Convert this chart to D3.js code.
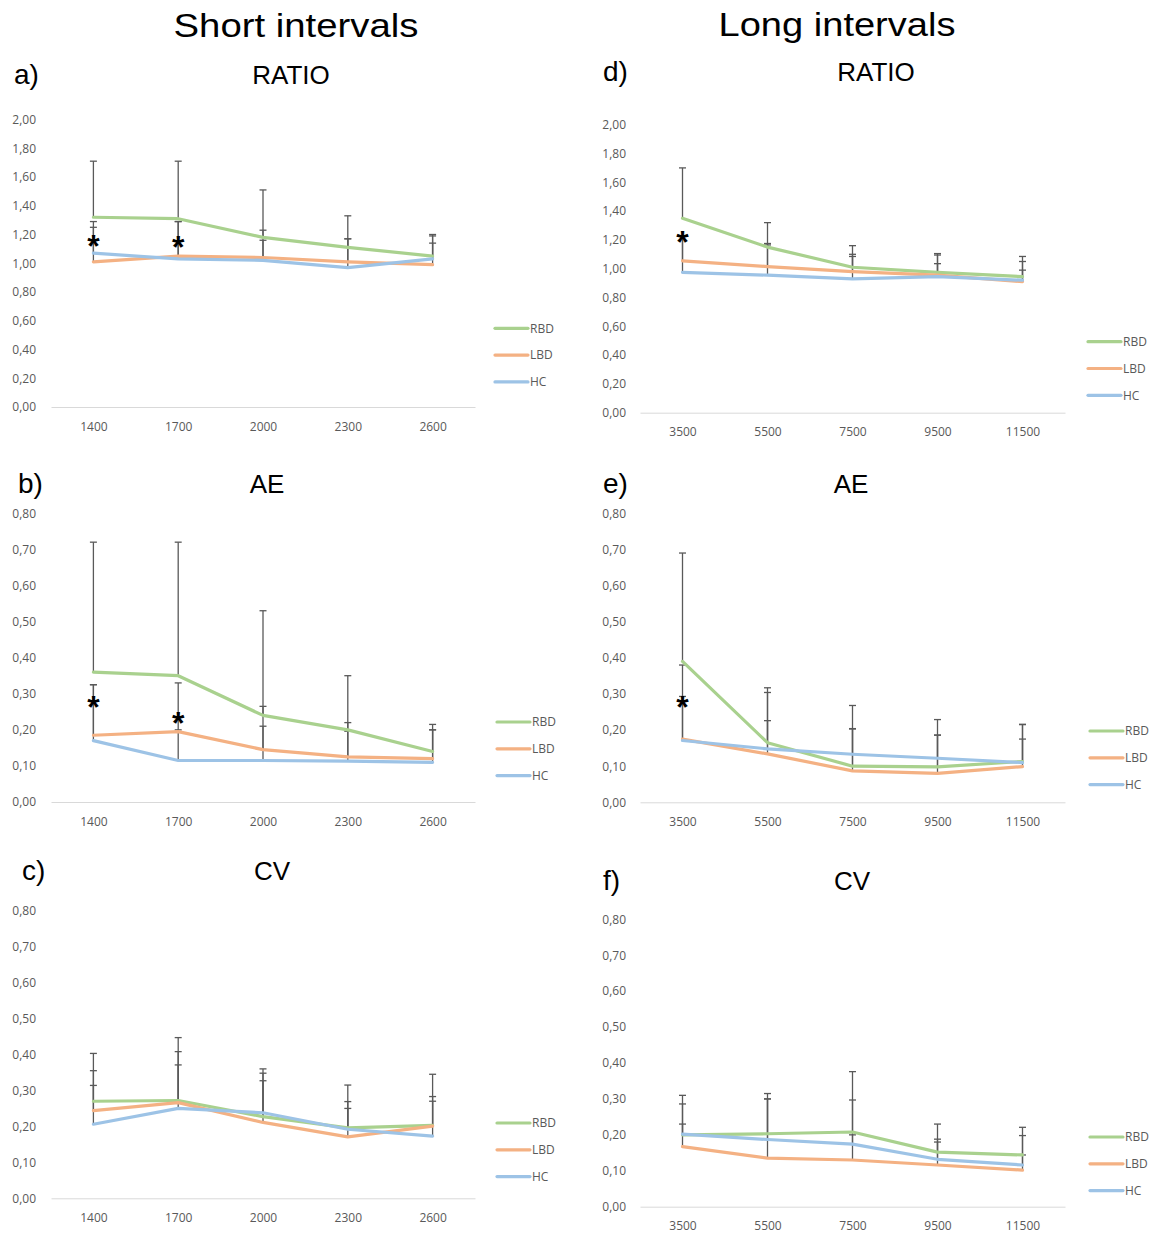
<!DOCTYPE html>
<html>
<head>
<meta charset="utf-8">
<script src="https://cdn.jsdelivr.net/npm/d3@7"></script>
<style>
  body { margin: 0; background: #fff; }
  svg { display: block; }
</style>
</head>
<body>
<div id="chart"></div>
<script>
// groups and colours
const groups = ["RBD", "LBD", "HC"];
const groupColors = ["#a9d18e", "#f4b183", "#9dc3e6"];

// categories (ms)
const shortCats = ["1400", "1700", "2000", "2300", "2600"];
const longCats = ["3500", "5500", "7500", "9500", "11500"];

// y ticks
const ratioTicks = [0, 0.2, 0.4, 0.6, 0.8, 1.0, 1.2, 1.4, 1.6, 1.8, 2.0];
const smallTicks = [0, 0.1, 0.2, 0.3, 0.4, 0.5, 0.6, 0.7, 0.8];

// a) RATIO short  (rows: RBD, LBD, HC)
const ratioShortMean = [
  [1.32, 1.31, 1.18, 1.11, 1.05],
  [1.01, 1.05, 1.04, 1.01, 0.99],
  [1.07, 1.03, 1.02, 0.97, 1.03]
];
const ratioShortSD = [
  [0.39, 0.40, 0.33, 0.22, 0.15],
  [0.28, 0.24, 0.19, 0.16, 0.20],
  [0.18, 0.26, 0.14, 0.20, 0.11]
];
const ratioShortStars = [["1400", 1.17], ["1700", 1.16]];

// b) AE short
const aeShortMean = [
  [0.36, 0.35, 0.24, 0.20, 0.14],
  [0.185, 0.195, 0.145, 0.125, 0.12],
  [0.17, 0.115, 0.115, 0.113, 0.11]
];
const aeShortSD = [
  [0.36, 0.37, 0.29, 0.15, 0.075],
  [0.14, 0.135, 0.12, 0.095, 0.08],
  [0.155, 0.085, 0.095, 0.083, 0.09]
];
const aeShortStars = [["1400", 0.283], ["1700", 0.239]];

// c) CV short
const cvShortMean = [
  [0.27, 0.272, 0.227, 0.196, 0.203],
  [0.244, 0.266, 0.211, 0.171, 0.201],
  [0.206, 0.25, 0.238, 0.192, 0.173]
];
const cvShortSD = [
  [0.133, 0.175, 0.133, 0.119, 0.142],
  [0.111, 0.142, 0.116, 0.098, 0.082],
  [0.108, 0.121, 0.11, 0.058, 0.097]
];

// d) RATIO long
const ratioLongMean = [
  [1.35, 1.15, 1.01, 0.975, 0.945],
  [1.055, 1.015, 0.98, 0.955, 0.91],
  [0.975, 0.955, 0.93, 0.945, 0.92]
];
const ratioLongSD = [
  [0.35, 0.17, 0.15, 0.13, 0.14],
  [0.17, 0.16, 0.12, 0.14, 0.14],
  [0.255, 0.21, 0.155, 0.09, 0.07]
];
const ratioLongStars = [["3500", 1.234]];

// e) AE long
const aeLongMean = [
  [0.39, 0.165, 0.10, 0.098, 0.113],
  [0.175, 0.134, 0.087, 0.08, 0.099],
  [0.171, 0.148, 0.133, 0.122, 0.11]
];
const aeLongSD = [
  [0.30, 0.152, 0.168, 0.131, 0.103],
  [0.205, 0.17, 0.117, 0.106, 0.116],
  [0.122, 0.078, 0.07, 0.064, 0.065]
];
const aeLongStars = [["3500", 0.283]];

// f) CV long
const cvLongMean = [
  [0.20, 0.203, 0.208, 0.152, 0.144],
  [0.167, 0.135, 0.130, 0.116, 0.102],
  [0.202, 0.187, 0.174, 0.132, 0.116]
];
const cvLongSD = [
  [0.11, 0.112, 0.168, 0.078, 0.077],
  [0.063, 0.165, 0.07, 0.072, 0.042],
  [0.084, 0.113, 0.123, 0.048, 0.082]
];

const W = 1152, H = 1234;
const labelFont = "'Liberation Sans', Arial, sans-serif";
const tickFont = "'Open Sans', sans-serif";
const gray = "#595959";

const svg = d3.select("#chart").append("svg")
  .attr("width", W).attr("height", H);
svg.append("rect").attr("width", W).attr("height", H).attr("fill", "#fff");

// column titles
svg.append("text").attr("x", 296).attr("y", 37)
  .attr("text-anchor", "middle").attr("font-family", labelFont)
  .attr("font-size", 33).attr("textLength", 245).attr("lengthAdjust", "spacingAndGlyphs")
  .text("Short intervals");
svg.append("text").attr("x", 837).attr("y", 36)
  .attr("text-anchor", "middle").attr("font-family", labelFont)
  .attr("font-size", 33).attr("textLength", 237).attr("lengthAdjust", "spacingAndGlyphs")
  .text("Long intervals");

const fmt = d3.formatLocale({ decimal: ",", thousands: ".", grouping: [3], currency: ["", ""] }).format(".2f");

// layout per panel
const panels = [
  { tag: "a)", tagX: 14, title: "RATIO", titleX: 291, titleY: 83.5, cats: shortCats,
    mean: ratioShortMean, sd: ratioShortSD, stars: ratioShortStars, ticks: ratioTicks, max: 2,
    x0: 51, x1: 475, yBot: 407, yTop: 119.5, tickX: 36, legX: 495, legY: 328.3 },
  { tag: "b)", tagX: 18, title: "AE", titleX: 267, titleY: 493, cats: shortCats,
    mean: aeShortMean, sd: aeShortSD, stars: aeShortStars, ticks: smallTicks, max: 0.8,
    x0: 51, x1: 475, yBot: 802, yTop: 513.3, tickX: 36, legX: 497, legY: 722 },
  { tag: "c)", tagX: 22, title: "CV", titleX: 272, titleY: 880, cats: shortCats,
    mean: cvShortMean, sd: cvShortSD, stars: [], ticks: smallTicks, max: 0.8,
    x0: 51, x1: 475, yBot: 1198.3, yTop: 910.7, tickX: 36, legX: 497, legY: 1123 },
  { tag: "d)", tagX: 603, title: "RATIO", titleX: 876, titleY: 81, cats: longCats,
    mean: ratioLongMean, sd: ratioLongSD, stars: ratioLongStars, ticks: ratioTicks, max: 2,
    x0: 640, x1: 1065, yBot: 412.7, yTop: 124.7, tickX: 626, legX: 1088, legY: 341.7 },
  { tag: "e)", tagX: 603, title: "AE", titleX: 851, titleY: 493, cats: longCats,
    mean: aeLongMean, sd: aeLongSD, stars: aeLongStars, ticks: smallTicks, max: 0.8,
    x0: 640, x1: 1065, yBot: 802.3, yTop: 513.3, tickX: 626, legX: 1090, legY: 731 },
  { tag: "f)", tagX: 603, title: "CV", titleX: 852, titleY: 890, cats: longCats,
    mean: cvLongMean, sd: cvLongSD, stars: [], ticks: smallTicks, max: 0.8,
    x0: 640, x1: 1065, yBot: 1206.7, yTop: 919.3, tickX: 626, legX: 1090, legY: 1137 }
];

panels.forEach(p => {
  const g = svg.append("g");

  // panel letter and title
  g.append("text").attr("x", p.tagX).attr("y", p.titleY)
    .attr("font-family", labelFont).attr("font-size", 28)
    .text(p.tag);
  g.append("text").attr("x", p.titleX).attr("y", p.titleY)
    .attr("text-anchor", "middle").attr("font-family", labelFont).attr("font-size", 26)
    .text(p.title);

  const x = d3.scalePoint().domain(p.cats).range([p.x0, p.x1]).padding(0.5);
  const y = d3.scaleLinear().domain([0, p.max]).range([p.yBot, p.yTop]);

  // y axis (labels only)
  const ya = g.append("g").attr("transform", `translate(${p.tickX},0)`)
    .call(d3.axisLeft(y).tickValues(p.ticks).tickFormat(fmt).tickSize(0).tickPadding(0));
  ya.select(".domain").remove();
  ya.selectAll("text").attr("font-family", tickFont).attr("font-size", 12).attr("fill", gray);

  // x axis
  const xa = g.append("g").attr("transform", `translate(0,${p.yBot})`)
    .call(d3.axisBottom(x).tickSize(0).tickPadding(15));
  xa.select(".domain").attr("stroke", "#d9d9d9").attr("stroke-width", 1);
  xa.selectAll("text").attr("font-family", tickFont).attr("font-size", 12).attr("fill", gray);

  // error bars (plus direction)
  groups.forEach((gr, gi) => {
    p.cats.forEach((c, ci) => {
      const m = p.mean[gi][ci], s = p.sd[gi][ci];
      const cx = x(c);
      g.append("line").attr("x1", cx).attr("x2", cx)
        .attr("y1", y(m)).attr("y2", y(m + s))
        .attr("stroke", gray).attr("stroke-width", 1.3);
      g.append("line").attr("x1", cx - 3.5).attr("x2", cx + 3.5)
        .attr("y1", y(m + s)).attr("y2", y(m + s))
        .attr("stroke", gray).attr("stroke-width", 1.3);
    });
  });

  // series lines
  const line = d3.line().x(d => x(d[0])).y(d => y(d[1]));
  groups.forEach((gr, gi) => {
    const pts = p.cats.map((c, ci) => [c, p.mean[gi][ci]]);
    g.append("path").attr("d", line(pts))
      .attr("fill", "none").attr("stroke", groupColors[gi])
      .attr("stroke-width", 3.2).attr("stroke-linecap", "round").attr("stroke-linejoin", "round");
  });

  // significance stars
  p.stars.forEach(([c, v]) => {
    g.append("text").attr("x", x(c)).attr("y", y(v) + 18)
      .attr("text-anchor", "middle").attr("font-family", labelFont)
      .attr("font-weight", "bold").attr("font-size", 32).attr("fill", "#000")
      .text("*");
  });

  // legend
  groups.forEach((gr, gi) => {
    const ly = p.legY + gi * 26.8;
    g.append("line").attr("x1", p.legX).attr("x2", p.legX + 33)
      .attr("y1", ly).attr("y2", ly)
      .attr("stroke", groupColors[gi]).attr("stroke-width", 3.2).attr("stroke-linecap", "round");
    g.append("text").attr("x", p.legX + 35).attr("y", ly).attr("dy", "0.35em")
      .attr("font-family", tickFont).attr("font-size", 12).attr("fill", gray)
      .text(gr);
  });
});
</script>
</body>
</html>
